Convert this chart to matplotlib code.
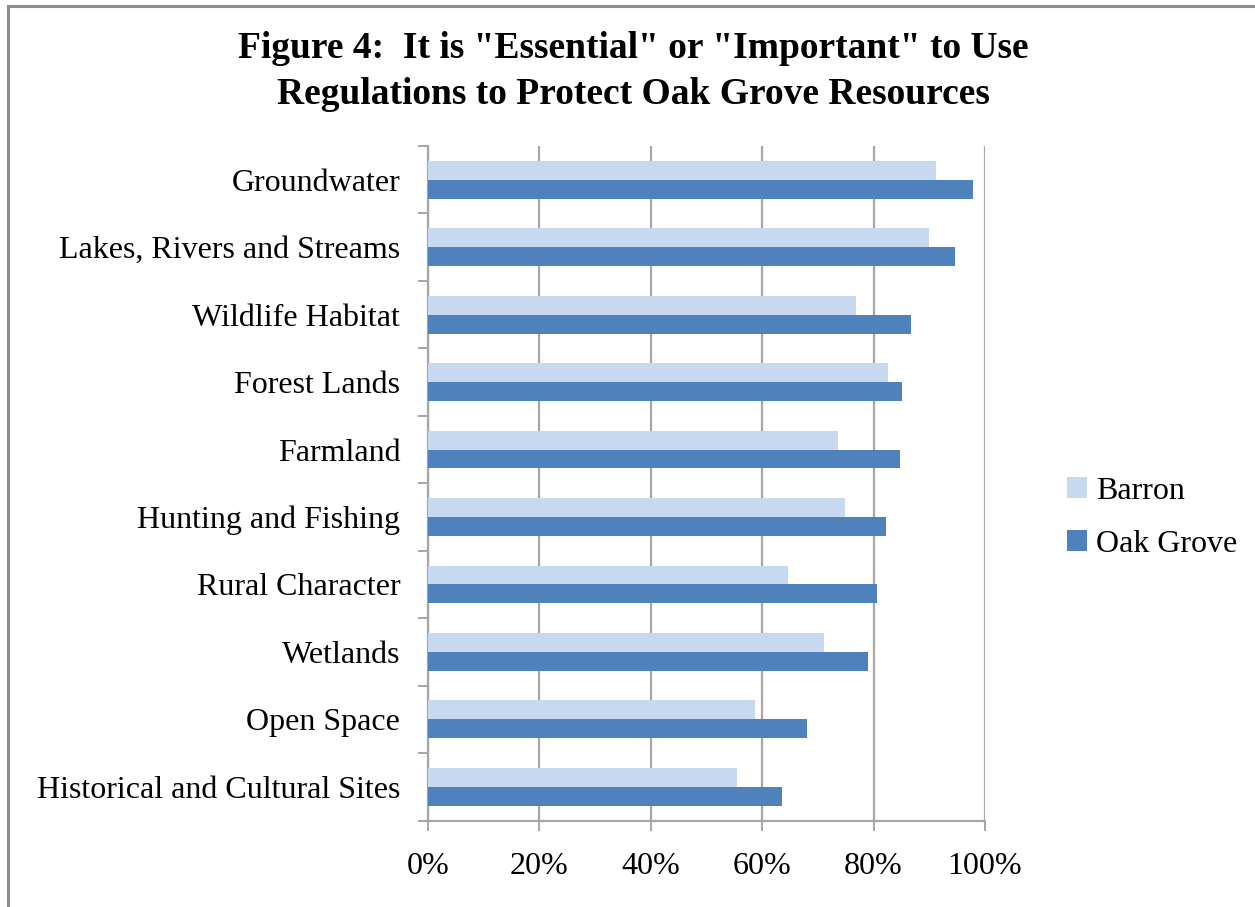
import matplotlib
matplotlib.use("Agg")
import matplotlib.pyplot as plt
from matplotlib.patches import Rectangle
import numpy as np

categories = ["Groundwater", "Lakes, Rivers and Streams", "Wildlife Habitat",
              "Forest Lands", "Farmland", "Hunting and Fishing", "Rural Character",
              "Wetlands", "Open Space", "Historical and Cultural Sites"]
barron = [91.2, 90.0, 76.8, 82.6, 73.6, 74.8, 64.7, 71.1, 58.7, 55.5]
oak_grove = [97.9, 94.6, 86.7, 85.1, 84.7, 82.2, 80.6, 79.0, 68.1, 63.6]
xticks = [0, 20, 40, 60, 80, 100]
xtick_labels = ["0%", "20%", "40%", "60%", "80%", "100%"]

plt.rcParams['font.family'] = ['Liberation Serif', 'DejaVu Serif']

W, H = 1255, 907
fig = plt.figure(figsize=(W / 100, H / 100), dpi=100)
ax = fig.add_axes([428 / W, (H - 820.5) / H, (985 - 428) / W, (820.5 - 146) / H])

n = len(categories)
pos = np.arange(n)[::-1]
h = 0.28
light = "#C6D9F1"
dark = "#4F81BD"
ax.barh(pos + h / 2, barron, height=h, color=light, label="Barron", zorder=3)
ax.barh(pos - h / 2, oak_grove, height=h, color=dark, label="Oak Grove", zorder=3)

ax.set_xlim(0, 100)
ax.set_ylim(-0.5, n - 0.5)

grid_c = "#A6A6A6"
ax.set_xticks(xticks)
ax.set_xticklabels(xtick_labels, fontsize=23)
ax.xaxis.grid(True, color=grid_c, linewidth=1.6, zorder=0)
ax.tick_params(axis='x', length=7, width=1.4, color=grid_c, pad=16, labelcolor="black")

ax.set_yticks(np.arange(-0.5, n, 1.0))
ax.set_yticklabels([])
ax.set_yticks(pos, minor=True)
ax.set_yticklabels(categories, minor=True, fontsize=23)
ax.tick_params(axis='y', which='major', length=7, width=1.4, color=grid_c)
ax.tick_params(axis='y', which='minor', length=0, pad=20)

for s in ["top", "right"]:
    ax.spines[s].set_visible(False)
for s in ["left", "bottom"]:
    ax.spines[s].set_color(grid_c)
    ax.spines[s].set_linewidth(1.6)

fig.text(633 / W, 1 - 49 / H, 'Figure 4:  It is "Essential" or "Important" to Use',
         ha="center", va="center", fontsize=27, fontweight="bold")
fig.text(633 / W, 1 - 94 / H, 'Regulations to Protect Oak Grove Resources',
         ha="center", va="center", fontsize=27, fontweight="bold")

leg = fig.legend(loc="center left", bbox_to_anchor=(1067 / W, 1 - 518 / H),
                 frameon=False, fontsize=23, handlelength=0.62, handleheight=0.62,
                 handletextpad=0.3, labelspacing=0.75, borderpad=0, borderaxespad=0)

fig.add_artist(Rectangle((8 / W, -0.05), 1.1, 1 - 6 / H + 0.05, transform=fig.transFigure,
                         fill=False, edgecolor="#8C8C8C", linewidth=2.2))

fig.savefig("out.png", dpi=100, facecolor="white")
